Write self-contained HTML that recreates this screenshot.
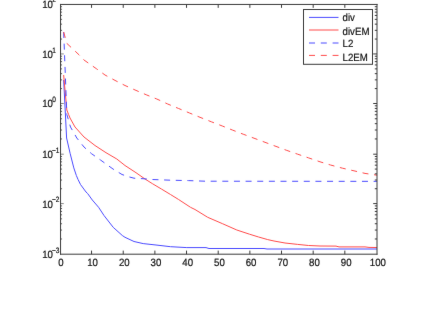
<!DOCTYPE html>
<html><head><meta charset="utf-8"><title>plot</title>
<style>html,body{margin:0;padding:0;background:#fff}body{width:446px;height:330px;overflow:hidden}svg{display:block}text{font-family:"Liberation Sans",sans-serif;fill:#111;stroke:#111;stroke-width:0.2px;text-rendering:geometricPrecision}</style></head><body>
<svg width="446" height="330" viewBox="0 0 446 330">
<defs><filter id="b" x="0" y="0" width="446" height="330" filterUnits="userSpaceOnUse" color-interpolation-filters="sRGB"><feConvolveMatrix order="3" kernelMatrix="0.005 0.045 0.005 0.045 0.8 0.045 0.005 0.045 0.005" edgeMode="duplicate" preserveAlpha="false"/></filter></defs>
<rect width="446" height="330" fill="#fff"/>
<g filter="url(#b)">
<g fill="none" stroke-width="1" stroke-linejoin="round">
<polyline stroke="#4a4aff" points="63.67,80.00 66.60,138.00 70.10,153.30 73.80,167.90 76.35,175.50 78.00,179.40 80.50,184.50 86.00,192.00 87.70,193.60 92.30,200.00 98.60,207.30 104.00,215.50 113.20,227.30 122.30,235.50 125.00,237.30 134.00,241.50 143.20,243.60 156.00,245.00 170.50,246.70 186.80,247.60 206.00,247.60 209.00,248.50 264.00,248.50 267.00,249.00 377.00,249.00"/>
<polyline stroke="#ff4a4a" points="63.67,75.00 66.84,110.00 68.60,114.50 70.00,118.00 75.00,127.00 84.00,137.00 95.00,145.50 106.00,152.70 116.80,159.00 125.00,165.50 136.00,172.70 145.00,179.00 152.30,183.60 161.40,189.00 170.50,194.50 178.60,199.50 190.50,207.30 195.00,209.50 207.70,217.30 222.30,223.60 236.80,230.00 249.50,234.20 258.60,237.00 267.70,239.60 274.00,241.00 285.00,243.00 297.70,244.40 308.60,245.50 320.00,246.00 336.00,246.10 339.00,246.90 365.00,246.90 369.00,247.40 377.00,247.50"/>
<polyline stroke="#4a4aff" stroke-dasharray="6 5.64" points="63.67,32.00 66.84,114.50 70.50,127.00 76.80,138.00 84.00,147.00 91.40,153.60 100.50,160.00 113.00,169.00 122.00,174.50 129.50,177.00 134.00,178.20 143.00,178.70 152.00,179.50 170.50,180.20 188.60,180.60 205.00,181.20 377.00,181.35"/>
<polyline stroke="#ff4a4a" stroke-dasharray="6 5.64" points="63.67,32.00 66.84,43.40 71.00,47.30 75.00,51.00 79.00,54.80 84.00,60.00 96.80,69.00 105.00,75.00 115.00,80.40 125.00,85.50 136.00,90.40 146.80,95.00 156.80,99.00 167.70,104.00 178.60,108.50 189.50,113.00 200.00,117.30 211.40,121.80 222.30,126.00 232.30,130.00 243.20,134.20 254.00,138.20 265.00,142.30 276.00,146.40 286.80,150.40 297.70,154.20 308.60,157.90 320.00,161.80 330.50,165.00 342.50,168.20 353.00,170.60 365.00,173.40 377.00,175.20"/>
</g>
<g stroke="#3a3a3a" stroke-width="1" fill="none">
<path d="M60.55 3.95V254.70M377.00 3.95V254.70M60.05 4.45H377.50M60.05 254.20H377.50"/>
<path d="M91.56 254.20v-3.6M91.56 4.45v3.4M123.22 254.20v-3.6M123.22 4.45v3.4M154.88 254.20v-3.6M154.88 4.45v3.4M186.54 254.20v-3.6M186.54 4.45v3.4M218.20 254.20v-3.6M218.20 4.45v3.4M249.86 254.20v-3.6M249.86 4.45v3.4M281.52 254.20v-3.6M281.52 4.45v3.4M313.18 254.20v-3.6M313.18 4.45v3.4M344.84 254.20v-3.6M344.84 4.45v3.4M377.00 39.05h-2.2M377.00 30.33h-2.2M377.00 24.15h-2.2M377.00 19.35h-2.2M377.00 15.43h-2.2M377.00 12.12h-2.2M377.00 9.25h-2.2M377.00 6.71h-2.2M377.00 53.95h-3.8M377.00 88.58h-2.2M377.00 79.86h-2.2M377.00 73.67h-2.2M377.00 68.87h-2.2M377.00 64.94h-2.2M377.00 61.63h-2.2M377.00 58.75h-2.2M377.00 56.22h-2.2M377.00 103.50h-3.8M377.00 138.94h-2.2M377.00 130.01h-2.2M377.00 123.68h-2.2M377.00 118.76h-2.2M377.00 114.75h-2.2M377.00 111.35h-2.2M377.00 108.41h-2.2M377.00 105.82h-2.2M377.00 154.20h-3.8M377.00 188.73h-2.2M377.00 180.03h-2.2M377.00 173.86h-2.2M377.00 169.07h-2.2M377.00 165.16h-2.2M377.00 161.85h-2.2M377.00 158.99h-2.2M377.00 156.46h-2.2M377.00 203.60h-3.8M377.00 238.97h-2.2M377.00 230.06h-2.2M377.00 223.74h-2.2M377.00 218.83h-2.2M377.00 214.83h-2.2M377.00 211.44h-2.2M377.00 208.50h-2.2M377.00 205.92h-2.2"/>
<path stroke-opacity="0.6" d="M60.55 53.95h3.2M60.55 103.50h3.2M60.55 154.20h3.2M60.55 203.60h3.2"/>
<path stroke-opacity="0.8" d="M60.55 39.05h1.5M60.55 30.33h1.5M60.55 24.15h1.5M60.55 19.35h1.5M60.55 15.43h1.5M60.55 12.12h1.5M60.55 9.25h1.5M60.55 6.71h1.5M60.55 88.58h1.5M60.55 79.86h1.5M60.55 73.67h1.5M60.55 68.87h1.5M60.55 64.94h1.5M60.55 61.63h1.5M60.55 58.75h1.5M60.55 56.22h1.5M60.55 138.94h1.5M60.55 130.01h1.5M60.55 123.68h1.5M60.55 118.76h1.5M60.55 114.75h1.5M60.55 111.35h1.5M60.55 108.41h1.5M60.55 105.82h1.5M60.55 188.73h1.5M60.55 180.03h1.5M60.55 173.86h1.5M60.55 169.07h1.5M60.55 165.16h1.5M60.55 161.85h1.5M60.55 158.99h1.5M60.55 156.46h1.5M60.55 238.97h1.5M60.55 230.06h1.5M60.55 223.74h1.5M60.55 218.83h1.5M60.55 214.83h1.5M60.55 211.44h1.5M60.55 208.50h1.5M60.55 205.92h1.5"/>
</g>
<g font-size="10.5" text-anchor="middle">
<text transform="translate(60.90 265.7) scale(0.920 1)">0</text>
<text transform="translate(92.60 265.7) scale(0.920 1)">10</text>
<text transform="translate(124.30 265.7) scale(0.920 1)">20</text>
<text transform="translate(156.00 265.7) scale(0.920 1)">30</text>
<text transform="translate(187.70 265.7) scale(0.920 1)">40</text>
<text transform="translate(219.40 265.7) scale(0.920 1)">50</text>
<text transform="translate(251.10 265.7) scale(0.920 1)">60</text>
<text transform="translate(282.80 265.7) scale(0.920 1)">70</text>
<text transform="translate(314.50 265.7) scale(0.920 1)">80</text>
<text transform="translate(346.20 265.7) scale(0.920 1)">90</text>
<text transform="translate(377.90 265.7) scale(0.920 1)">100</text>
</g>
<g font-size="10.5">
<text transform="translate(42.2 8.35) scale(0.920 1)">10</text>
<text font-size="7.8" transform="translate(52.30 1.85) scale(0.84 1)">2</text>
<text transform="translate(42.2 57.85) scale(0.920 1)">10</text>
<text font-size="7.8" transform="translate(52.30 52.55) scale(0.84 1)">1</text>
<text transform="translate(42.2 107.40) scale(0.920 1)">10</text>
<text font-size="7.8" transform="translate(52.30 102.10) scale(0.84 1)">0</text>
<text transform="translate(42.2 158.10) scale(0.920 1)">10</text>
<text font-size="7.8" transform="translate(52.00 152.80) scale(0.84 1)">−1</text>
<text transform="translate(42.2 207.50) scale(0.920 1)">10</text>
<text font-size="7.8" transform="translate(52.00 202.20) scale(0.84 1)">−2</text>
<text transform="translate(42.2 258.10) scale(0.920 1)">10</text>
<text font-size="7.8" transform="translate(52.00 252.80) scale(0.84 1)">−3</text>
</g>
<rect x="303.5" y="9.5" width="69" height="54.8" fill="#fff" stroke="#3a3a3a" stroke-width="1"/>
<g fill="none" stroke-width="1">
<path stroke="#4a4aff" d="M309 17.4H338.5"/>
<path stroke="#ff4a4a" d="M309 30.0H338.5"/>
<path stroke="#4a4aff" stroke-dasharray="6 5.8" d="M309 43.0H338.5"/>
<path stroke="#ff4a4a" stroke-dasharray="6 5.8" d="M309 55.4H338.5"/>
</g>
<g font-size="10.5">
<text transform="translate(342.6 21.25) scale(0.920 1)">div</text>
<text transform="translate(342.6 34.70) scale(0.920 1)">divEM</text>
<text transform="translate(342.6 47.45) scale(0.920 1)">L2</text>
<text transform="translate(342.6 61.30) scale(0.920 1)">L2EM</text>
</g>
</g>
</svg></body></html>
